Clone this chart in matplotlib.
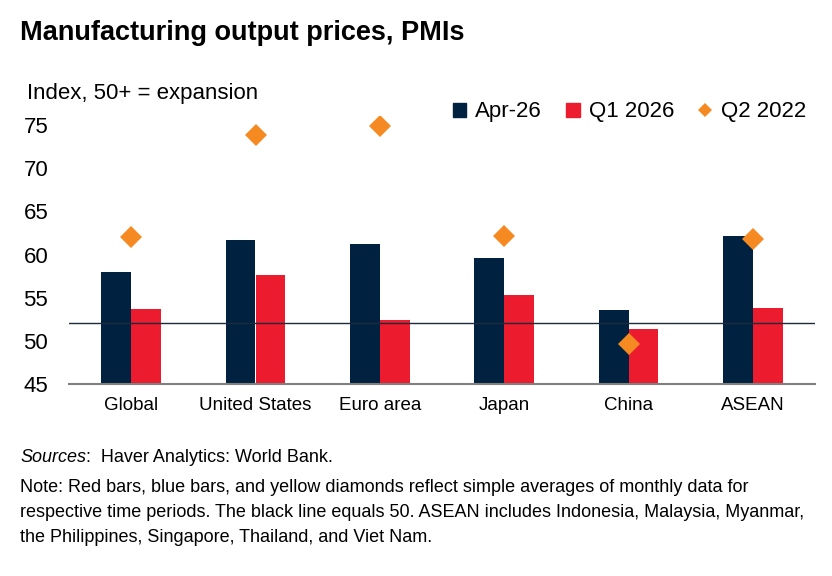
import numpy as np
import matplotlib
matplotlib.use("Agg")
import matplotlib.pyplot as plt
from matplotlib.lines import Line2D
from matplotlib.patches import Patch

# PMI output prices
regions = ["Global", "United States", "Euro area", "Japan", "China", "ASEAN"]
apr_26 = [58.0, 61.7, 61.2, 59.6, 53.6, 62.2]
q1_2026 = [53.7, 57.7, 52.5, 55.4, 51.4, 53.9]
q2_2022 = [62.0, 73.8, 74.9, 62.2, 49.7, 61.8]
ref_line = 52.1  # where the black line is drawn on the original
yticks = [45, 50, 55, 60, 65, 70, 75]

navy = "#00213F"
red = "#EC1C2E"
orange = "#F58A22"

plt.rcParams["font.family"] = ["Liberation Sans", "DejaVu Sans"]

fig = plt.figure(figsize=(8.32, 5.76), dpi=100)
ax = fig.add_axes([69 / 832, 0.3325, (815 - 69) / 832, 0.4655])

x = np.arange(len(regions))
w = 0.24
ax.bar(x - w / 2, apr_26, width=w, color=navy, label="Apr-26", zorder=2)
ax.bar(x + w / 2, q1_2026, width=w, color=red, label="Q1 2026", zorder=2)
ax.axhline(ref_line, color="#1E2B3C", lw=1.0, zorder=3)
ax.plot(x, q2_2022, "D", color=orange, markersize=11, markeredgewidth=0,
        linestyle="none", zorder=4, label="Q2 2022")

ax.set_xlim(-0.5, len(regions) - 0.5)
ax.set_ylim(45, 76)
ax.set_yticks(yticks)
ax.set_xticks(x)
ax.set_xticklabels(regions, fontsize=13.5)
ax.tick_params(axis="y", length=0, pad=15, labelsize=16)
ax.tick_params(axis="x", length=0, pad=9)

for s in ["top", "right", "left"]:
    ax.spines[s].set_visible(False)
ax.spines["bottom"].set_color("#808080")
ax.spines["bottom"].set_linewidth(1.5)

fig.text(20 / 832, 1 - 33 / 576, "Manufacturing output prices, PMIs",
         fontsize=19.5, fontweight="bold", va="center", ha="left")
fig.text(27 / 832, 1 - 94 / 576, "Index, 50+ = expansion",
         fontsize=16, va="center", ha="left")

handles = [
    Patch(color=navy, label="Apr-26"),
    Patch(color=red, label="Q1 2026"),
    Line2D([], [], marker="D", color=orange, linestyle="none",
           markersize=7, markeredgewidth=0, label="Q2 2022"),
]
fig.legend(handles=handles, loc="center right", bbox_to_anchor=(806 / 832, 1 - 112 / 576),
           ncol=3, frameon=False, fontsize=16, handlelength=0.6, handleheight=0.6,
           handletextpad=0.4, columnspacing=1.1, borderaxespad=0, borderpad=0)

fs = 13
src = fig.text(20 / 832, 1 - 458 / 576, "Sources", fontstyle="italic",
               fontsize=fs, va="center", ha="left")
renderer = fig.canvas.get_renderer()
src_end = src.get_window_extent(renderer).x1
fig.text(src_end / 832, 1 - 458 / 576, ":  Haver Analytics: World Bank.",
         fontsize=fs, va="center", ha="left")
notes = [
    "Note: Red bars, blue bars, and yellow diamonds reflect simple averages of monthly data for",
    "respective time periods. The black line equals 50. ASEAN includes Indonesia, Malaysia, Myanmar,",
    "the Philippines, Singapore, Thailand, and Viet Nam.",
]
for i, line in enumerate(notes):
    fig.text(20 / 832, 1 - (487 + i * 25.5) / 576, line,
             fontsize=fs, va="center", ha="left")

fig.savefig("out.png", dpi=100)
